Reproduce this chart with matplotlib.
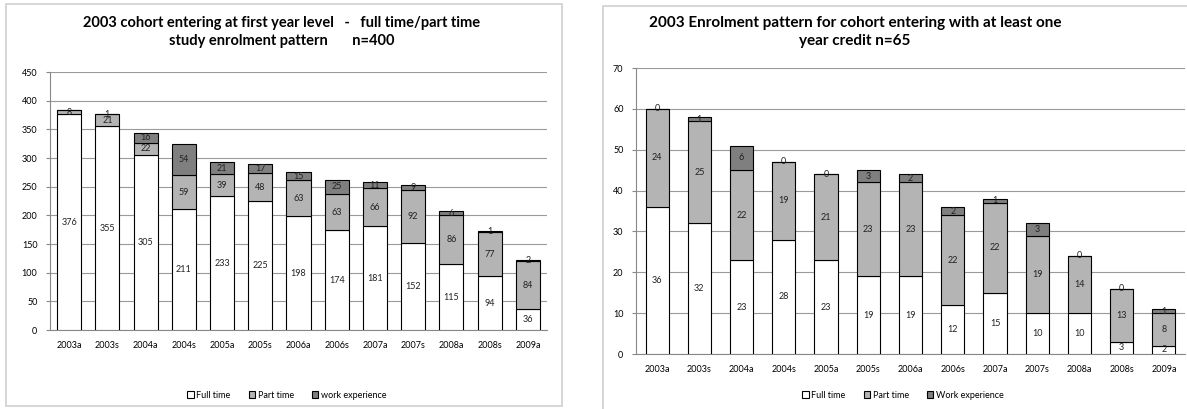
#!/usr/bin/env python3
"""Two stacked bar charts: 2003 cohort enrolment patterns (full time / part time / work experience)."""

import matplotlib
matplotlib.use("Agg")
import matplotlib.pyplot as plt
import numpy as np
from matplotlib.patches import Rectangle

plt.rcParams["font.family"] = ["Lato", "DejaVu Sans"]

periods = ["2003a", "2003s", "2004a", "2004s", "2005a", "2005s", "2006a",
           "2006s", "2007a", "2007s", "2008a", "2008s", "2009a"]

# cohort entering at first year level, n=400
first_full = [376, 355, 305, 211, 233, 225, 198, 174, 181, 152, 115, 94, 36]
first_part = [8, 21, 22, 59, 39, 48, 63, 63, 66, 92, 86, 77, 84]
first_work = [0, 1, 16, 54, 21, 17, 15, 25, 11, 9, 6, 1, 2]

# cohort entering with at least one year credit, n=65
credit_full = [36, 32, 23, 28, 23, 19, 19, 12, 15, 10, 10, 3, 2]
credit_part = [24, 25, 22, 19, 21, 23, 23, 22, 22, 19, 14, 13, 8]
credit_work = [0, 1, 6, 0, 0, 3, 2, 2, 1, 3, 0, 0, 1]

FULL_C = "white"
PART_C = "#b4b4b4"
WORK_C = "#7f7f7f"
W, H = 1187, 409


def px_axes(fig, x0, x1, ytop, ybot):
    return fig.add_axes([x0 / W, 1 - ybot / H, (x1 - x0) / W, (ybot - ytop) / H])


def stacked(ax, full, part, work, ymax, step, width, legend_labels, legend_x, show_zero):
    x = np.arange(len(periods))
    full = np.array(full)
    part = np.array(part)
    work = np.array(work)
    kw = dict(width=width, edgecolor="black", linewidth=0.8, zorder=3)
    b1 = ax.bar(x, full, color=FULL_C, label=legend_labels[0], **kw)
    b2 = ax.bar(x, part, bottom=full, color=PART_C, label=legend_labels[1], **kw)
    b3 = ax.bar(x, work, bottom=full + part, color=WORK_C, label=legend_labels[2], **kw)

    for bars, vals, base in ((b1, full, 0), (b2, part, full), (b3, work, full + part)):
        for i, v in enumerate(vals):
            if v == 0 and not show_zero:
                continue
            b = base[i] if np.ndim(base) else base
            ax.text(x[i], b + v / 2, str(v), ha="center", va="center",
                    fontsize=6.5, color="#222222", zorder=4)

    ax.set_xlim(-0.5, len(periods) - 0.5)
    ax.set_ylim(0, ymax)
    ax.set_yticks(np.arange(0, ymax + 1, step))
    ax.set_xticks(x)
    ax.set_xticklabels(periods)
    ax.tick_params(axis="y", labelsize=6.5, length=3, color="#888888", pad=6)
    ax.tick_params(axis="x", labelsize=6.5, length=0, pad=8)
    ax.yaxis.grid(True, color="#9a9a9a", linewidth=0.8, zorder=0)
    for s in ("top", "right"):
        ax.spines[s].set_visible(False)
    for s in ("left", "bottom"):
        ax.spines[s].set_color("#888888")
    ax.set_facecolor("white")

    ax.legend(loc="center", bbox_to_anchor=(legend_x / W, 1 - 395 / H),
              bbox_transform=ax.figure.transFigure, ncol=3, frameon=False,
              fontsize=6.5, handlelength=0.7, handleheight=0.7,
              handletextpad=0.3, columnspacing=2.0)


def main():
    fig = plt.figure(figsize=(W / 100, H / 100), dpi=100)
    fig.patch.set_facecolor("white")

    # chart frames
    fig.patches.append(Rectangle((6 / W, 1 - 406 / H), 556 / W, 402 / H,
                                 transform=fig.transFigure, fill=False,
                                 edgecolor="#cfcfcf", linewidth=1.2))
    fig.patches.append(Rectangle((603 / W, 1 - 430 / H), 620 / W, 424 / H,
                                 transform=fig.transFigure, fill=False,
                                 edgecolor="#cfcfcf", linewidth=1.2))

    ax1 = px_axes(fig, 50, 547, 72, 330)
    stacked(ax1, first_full, first_part, first_work, 450, 50, 0.63,
            ["Full time", "Part time", "work experience"], 287, show_zero=False)

    ax2 = px_axes(fig, 636, 1185, 68, 354)
    stacked(ax2, credit_full, credit_part, credit_work, 70, 10, 0.55,
            ["Full time", "Part time", "Work experience"], 903, show_zero=True)

    fig.text(282 / W, 1 - 32 / H,
             "2003 cohort entering at first year level   -   full time/part time\n"
             "study enrolment pattern       n=400",
             ha="center", va="center", fontsize=10.5, fontweight="bold",
             linespacing=1.35)
    fig.text(855 / W, 1 - 32 / H,
             "2003 Enrolment pattern for cohort entering with at least one\n"
             "year credit n=65",
             ha="center", va="center", fontsize=11, fontweight="bold",
             linespacing=1.35)

    fig.savefig("out.png", dpi=100)
    plt.close(fig)


if __name__ == "__main__":
    main()
